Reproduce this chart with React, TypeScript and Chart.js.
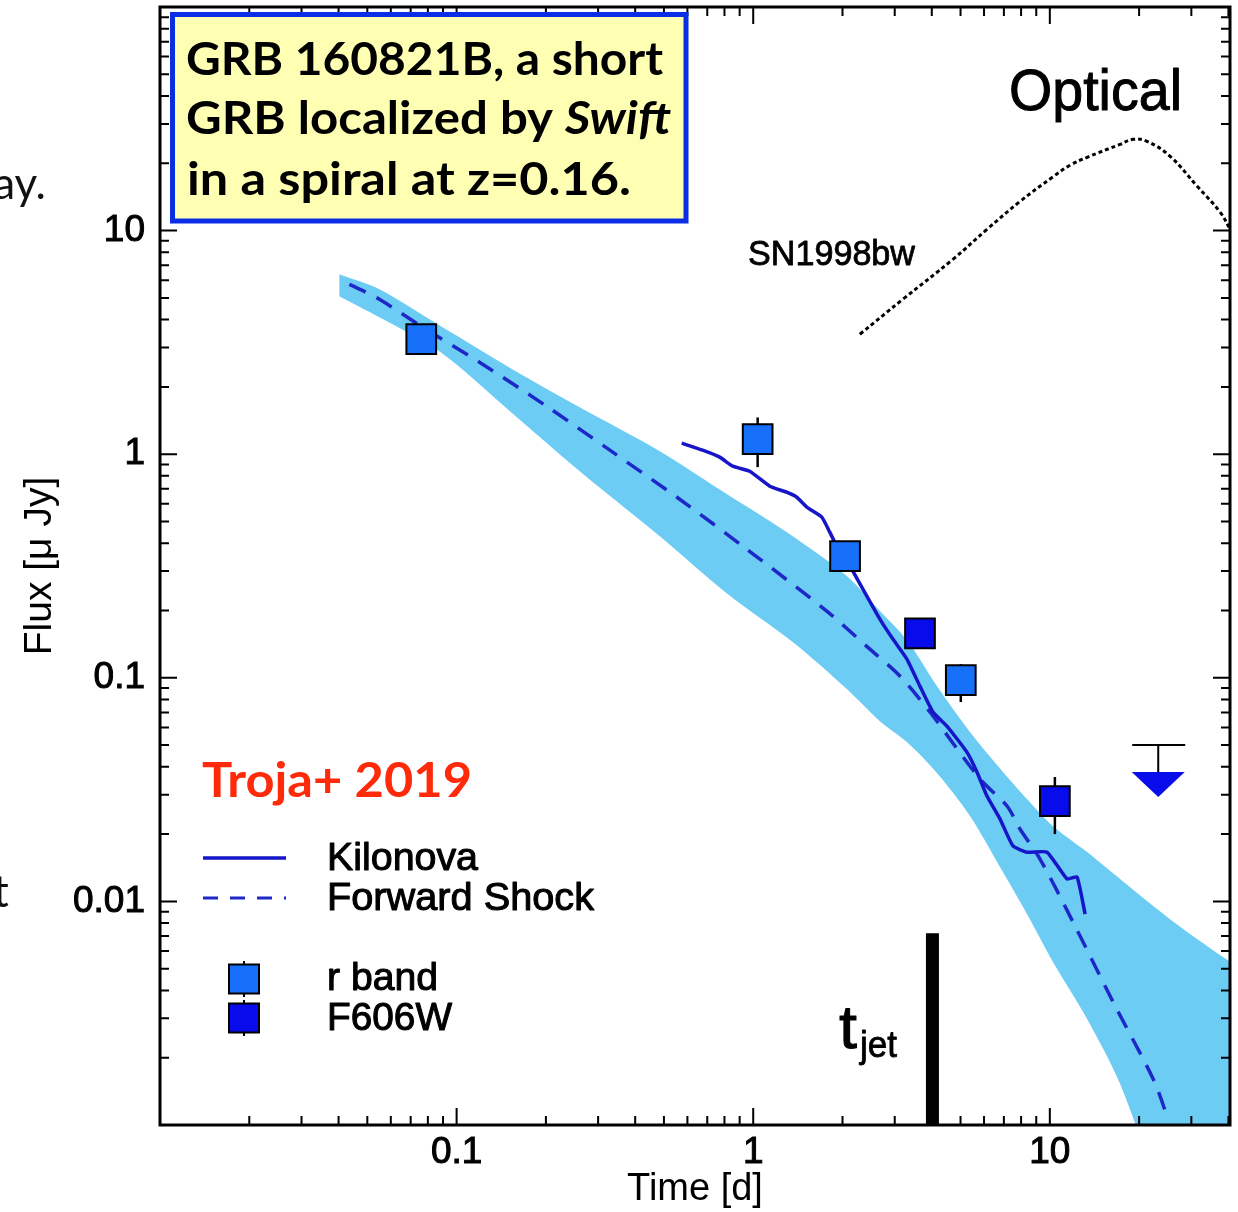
import React, { useEffect, useRef } from 'react';
import { Chart, registerables } from 'chart.js';

Chart.register(...registerables);

// ---------------- data ----------------
// Forward-shock uncertainty band (upper / lower edge)
const bandTime = [0.0402, 0.0549, 0.0875, 0.154, 0.26, 0.484, 0.814, 1.359, 2.068, 2.673, 3.297, 4.163, 5.381, 6.95, 8.375, 10.25, 13.36, 17.26, 22.3, 29.04, 40.57];
const bandUpper = [6.38, 5.47, 3.77, 2.4, 1.62, 1.031, 0.663, 0.43, 0.285, 0.199, 0.1475, 0.0918, 0.0572, 0.0379, 0.0287, 0.0217, 0.01663, 0.01259, 0.00954, 0.0073, 0.00536];
const bandLower = [5.09, 4.1, 2.886, 1.525, 0.839, 0.43, 0.239, 0.1444, 0.089, 0.064, 0.0516, 0.0375, 0.0241, 0.01353, 0.00878, 0.00536, 0.00298, 0.001527, 0.000605, 0.000252, 0.0000838];

// Forward shock model (dashed)
const fsTime = [0.0435, 0.0549, 0.0767, 0.1194, 0.201, 0.336, 0.565, 0.951, 1.77, 2.473, 3.122, 3.942, 5.813, 7.171, 7.932, 9.266, 11.97, 16.34, 22.3, 24.86];
const fsFlux = [5.75, 4.93, 3.7, 2.578, 1.639, 1.021, 0.629, 0.376, 0.1987, 0.1343, 0.1018, 0.0703, 0.0353, 0.0267, 0.02107, 0.01547, 0.00809, 0.00355, 0.001607, 0.001098];

// Kilonova model (solid)
const knTime = [0.574, 0.675, 0.771, 0.853, 0.973, 1.137, 1.297, 1.402, 1.516, 1.703, 1.812, 1.913, 2.068, 2.167, 2.416, 2.673, 2.957, 3.297, 3.647, 4.035, 4.498, 5.254, 5.679, 6.138, 6.79, 7.512, 8.375, 9.784, 11.43, 12.35, 13.15];
const knFlux = [1.12, 1.042, 0.97, 0.884, 0.839, 0.719, 0.676, 0.642, 0.58, 0.523, 0.448, 0.388, 0.339, 0.3, 0.232, 0.183, 0.149, 0.1213, 0.0918, 0.0703, 0.0608, 0.0465, 0.0379, 0.0296, 0.0234, 0.0177, 0.0166, 0.0166, 0.0126, 0.01285, 0.00878];

// SN1998bw template (dotted)
const snTime = [2.288, 3.195, 4.714, 6.138, 7.932, 10.25, 11.7, 13.36, 17.26, 19.09, 21.28, 25.45, 31.4, 37.54, 40.57];
const snFlux = [3.44, 4.93, 7.44, 10.13, 13.5, 17.4, 19.6, 21.27, 24.31, 25.59, 25.07, 21.48, 15.78, 12.07, 10.13];

// r band detections
const rTime = [0.076, 1.035, 2.04, 5.01];
const rFlux = [3.27, 1.167, 0.35, 0.0976];
const rErrLow = [3.27, 0.875, 0.35, 0.0779];
const rErrHigh = [3.27, 1.46, 0.35, 0.115];

// F606W detections
const hstTime = [3.65, 10.4];
const hstFlux = [0.158, 0.0281];
const hstErrLow = [0.158, 0.02];
const hstErrHigh = [0.158, 0.036];

// F606W upper limit
const ulTime = [23.2];
const ulFlux = [0.05];

// jet break marker
const tJet = 4.02;
const tJetTop = 0.0072;

// axes
const xMin = 0.01;
const xMax = 40.5;
const yMin = 0.001;
const yMax = 100;
const xTickValues = [0.02, 0.03, 0.04, 0.05, 0.06, 0.07, 0.08, 0.09, 0.1, 0.2, 0.3, 0.4, 0.5, 0.6, 0.7, 0.8, 0.9, 1, 2, 3, 4, 5, 6, 7, 8, 9, 10, 20, 30, 40];
const xMajorTicks = [0.1, 1, 10];
const xTickLabels = ['0.1', '1', '10'];
const yTickValues = [0.002, 0.003, 0.004, 0.005, 0.006, 0.007, 0.008, 0.009, 0.01, 0.02, 0.03, 0.04, 0.05, 0.06, 0.07, 0.08, 0.09, 0.1, 0.2, 0.3, 0.4, 0.5, 0.6, 0.7, 0.8, 0.9, 1, 2, 3, 4, 5, 6, 7, 8, 9, 10, 20, 30, 40, 50, 60, 70, 80, 90];
const yMajorTicks = [0.01, 0.1, 1, 10];
const yTickLabels = ['0.01', '0.1', '1', '10'];

// ---------------- styles ----------------
const SANS = '"Liberation Sans", Arial, Helvetica, sans-serif';
const SLIDE = 'Lato, "Open Sans", sans-serif';
const BAND = 'rgb(108,204,244)';
const KN_COLOR = 'rgb(22,22,200)';
const FS_COLOR = 'rgb(30,40,200)';
const R_COLOR = 'rgb(22,112,250)';
const HST_COLOR = 'rgb(8,12,235)';

const near = (a: number, b: number) => Math.abs(Math.log10(a) - Math.log10(b)) < 1e-6;
const majorIndex = (v: number, list: number[]) => list.findIndex((m) => near(v, m));
const pts = (xs: number[], ys: number[]) => xs.map((x, i) => ({ x, y: ys[i] }));

type Seg = { text: string; font: string };
function fitText(
  ctx: CanvasRenderingContext2D,
  segs: Seg[],
  x: number,
  y: number,
  width: number,
  color: string,
  stroke = 0
) {
  let total = 0;
  segs.forEach((s) => {
    ctx.font = s.font;
    total += ctx.measureText(s.text).width;
  });
  const k = width / total;
  ctx.save();
  ctx.translate(x, y);
  ctx.scale(k, 1);
  ctx.fillStyle = color;
  ctx.strokeStyle = color;
  ctx.lineWidth = stroke;
  ctx.lineJoin = 'round';
  ctx.textAlign = 'left';
  ctx.textBaseline = 'alphabetic';
  let cx = 0;
  segs.forEach((s) => {
    ctx.font = s.font;
    ctx.fillText(s.text, cx, 0);
    if (stroke > 0) ctx.strokeText(s.text, cx, 0);
    cx += ctx.measureText(s.text).width;
  });
  ctx.restore();
}

function drawErrBars(chart: any, times: number[], lows: number[], highs: number[]) {
  const { ctx } = chart;
  const xs = chart.scales.x;
  const ys = chart.scales.y;
  ctx.save();
  ctx.strokeStyle = '#000';
  ctx.lineWidth = 2.5;
  times.forEach((t, i) => {
    const px = xs.getPixelForValue(t);
    ctx.beginPath();
    ctx.moveTo(px, ys.getPixelForValue(highs[i]));
    ctx.lineTo(px, ys.getPixelForValue(lows[i]));
    ctx.stroke();
  });
  ctx.restore();
}

function legendSquare(ctx: CanvasRenderingContext2D, cx: number, cy: number, fill: string) {
  ctx.save();
  ctx.strokeStyle = '#000';
  ctx.lineWidth = 2;
  ctx.beginPath();
  ctx.moveTo(cx, cy - 18);
  ctx.lineTo(cx, cy + 18);
  ctx.stroke();
  ctx.fillStyle = fill;
  ctx.fillRect(cx - 15, cy - 14.5, 30, 29);
  ctx.strokeRect(cx - 15, cy - 14.5, 30, 29);
  ctx.restore();
}

const decorPlugin = {
  id: 'decor',
  beforeDatasetDraw(chart: any, args: any) {
    const label = chart.data.datasets[args.index].label;
    if (label === 'r band') drawErrBars(chart, rTime, rErrLow, rErrHigh);
    if (label === 'F606W') drawErrBars(chart, hstTime, hstErrLow, hstErrHigh);
  },
  afterDatasetsDraw(chart: any) {
    const { ctx } = chart;
    const xs = chart.scales.x;
    const ys = chart.scales.y;
    // upper limits
    ctx.save();
    ulTime.forEach((t, i) => {
      const px = xs.getPixelForValue(t);
      const py = ys.getPixelForValue(ulFlux[i]);
      ctx.strokeStyle = '#000';
      ctx.lineWidth = 2;
      ctx.beginPath();
      ctx.moveTo(px - 26, py);
      ctx.lineTo(px + 27, py);
      ctx.moveTo(px, py);
      ctx.lineTo(px, py + 27);
      ctx.stroke();
      ctx.fillStyle = HST_COLOR;
      ctx.beginPath();
      ctx.moveTo(px - 26.5, py + 27);
      ctx.lineTo(px + 26.5, py + 27);
      ctx.lineTo(px, py + 52);
      ctx.closePath();
      ctx.fill();
    });
    ctx.restore();
  },
  afterDraw(chart: any) {
    const { ctx, chartArea: ca } = chart;
    const xs = chart.scales.x;
    const ys = chart.scales.y;
    ctx.save();
    // tick marks (inward, all four sides)
    ctx.strokeStyle = '#000';
    ctx.lineWidth = 2;
    xTickValues.forEach((v) => {
      const px = xs.getPixelForValue(v);
      const len = majorIndex(v, xMajorTicks) >= 0 ? 17 : 9;
      ctx.beginPath();
      ctx.moveTo(px, ca.bottom);
      ctx.lineTo(px, ca.bottom - len);
      ctx.moveTo(px, ca.top);
      ctx.lineTo(px, ca.top + len);
      ctx.stroke();
    });
    yTickValues.forEach((v) => {
      const py = ys.getPixelForValue(v);
      const len = majorIndex(v, yMajorTicks) >= 0 ? 17 : 9;
      ctx.beginPath();
      ctx.moveTo(ca.left, py);
      ctx.lineTo(ca.left + len, py);
      ctx.moveTo(ca.right, py);
      ctx.lineTo(ca.right - len, py);
      ctx.stroke();
    });
    // frame
    ctx.lineWidth = 3;
    ctx.strokeRect(ca.left, ca.top, ca.right - ca.left, ca.bottom - ca.top);

    // info box
    ctx.fillStyle = '#ffffb4';
    ctx.fillRect(172.5, 14.5, 513.5, 206.5);
    ctx.strokeStyle = '#0a2de6';
    ctx.lineWidth = 5;
    ctx.strokeRect(172.5, 14.5, 513.5, 206.5);
    const bf = `bold 45px ${SLIDE}`;
    const bi = `italic bold 45px ${SLIDE}`;
    fitText(ctx, [{ text: 'GRB 160821B, a short', font: bf }], 186, 75, 477, '#000');
    fitText(ctx, [{ text: 'GRB localized by ', font: bf }, { text: 'Swift', font: bi }], 186, 134, 485, '#000');
    fitText(ctx, [{ text: 'in a spiral at z=0.16.', font: bf }], 187, 195, 444, '#000');

    // slide fragments left of the figure
    ctx.fillStyle = '#111';
    ctx.font = `44px ${SLIDE}`;
    ctx.textAlign = 'right';
    ctx.textBaseline = 'alphabetic';
    ctx.fillText('ay.', 46, 199);
    ctx.textAlign = 'left';
    ctx.fillText('t', -7, 907);

    // labels in the plot
    fitText(ctx, [{ text: 'Optical', font: `58px ${SANS}` }], 1009, 110, 173, '#000', 1);
    fitText(ctx, [{ text: 'SN1998bw', font: `35px ${SANS}` }], 748, 265, 167, '#000', 0.8);
    fitText(ctx, [{ text: 'Troja+ 2019', font: `bold 47px ${SLIDE}` }], 202, 797, 270, '#ff2a0a');

    // legend
    ctx.lineWidth = 3.5;
    ctx.strokeStyle = KN_COLOR;
    ctx.beginPath();
    ctx.moveTo(203, 858);
    ctx.lineTo(286, 858);
    ctx.stroke();
    ctx.strokeStyle = FS_COLOR;
    ctx.lineWidth = 3;
    ctx.setLineDash([15, 12]);
    ctx.beginPath();
    ctx.moveTo(203, 898);
    ctx.lineTo(286, 898);
    ctx.stroke();
    ctx.setLineDash([]);
    legendSquare(ctx, 244, 979, R_COLOR);
    legendSquare(ctx, 244, 1018, HST_COLOR);
    fitText(ctx, [{ text: 'Kilonova', font: `38px ${SANS}` }], 327, 870, 151, '#000', 1);
    fitText(ctx, [{ text: 'Forward Shock', font: `38px ${SANS}` }], 327, 910, 267, '#000', 1);
    fitText(ctx, [{ text: 'r band', font: `38px ${SANS}` }], 327, 990, 111, '#000', 1);
    fitText(ctx, [{ text: 'F606W', font: `38px ${SANS}` }], 327, 1030, 125, '#000', 1);

    // t_jet label
    fitText(ctx, [{ text: 't', font: `62px ${SANS}` }], 839, 1048, 18, '#000', 1);
    fitText(ctx, [{ text: 'jet', font: `37px ${SANS}` }], 860, 1057, 37, '#000', 0.8);
    ctx.restore();
  },
};

export default function App() {
  const ref = useRef<HTMLCanvasElement>(null);

  useEffect(() => {
    const canvas = ref.current;
    if (!canvas) return;
    const chart = new Chart(canvas, {
      type: 'line',
      data: {
        datasets: [
          {
            label: 'band upper',
            data: pts(bandTime, bandUpper),
            borderWidth: 0,
            borderColor: BAND,
            backgroundColor: BAND,
            fill: '+1',
            pointRadius: 0,
            tension: 0.3,
            order: 20,
          },
          {
            label: 'band lower',
            data: pts(bandTime, bandLower),
            borderWidth: 0,
            borderColor: BAND,
            fill: false,
            pointRadius: 0,
            tension: 0.3,
            order: 21,
          },
          {
            label: 'SN1998bw',
            data: pts(snTime, snFlux),
            borderColor: '#000',
            borderWidth: 3,
            borderDash: [4, 3],
            fill: false,
            pointRadius: 0,
            tension: 0.4,
            order: 9,
          },
          {
            label: 'Forward Shock',
            data: pts(fsTime, fsFlux),
            borderColor: FS_COLOR,
            borderWidth: 3.5,
            borderDash: [18, 12],
            fill: false,
            pointRadius: 0,
            tension: 0.3,
            order: 8,
          },
          {
            label: 'Kilonova',
            data: pts(knTime, knFlux),
            borderColor: KN_COLOR,
            borderWidth: 3.5,
            fill: false,
            pointRadius: 0,
            tension: 0.15,
            order: 7,
          },
          {
            label: 't_jet',
            data: [
              { x: tJet, y: tJetTop },
              { x: tJet, y: yMin * 0.8 },
            ],
            borderColor: '#000',
            borderWidth: 13,
            borderCapStyle: 'butt',
            fill: false,
            pointRadius: 0,
            order: 6,
          },
          {
            label: 'r band',
            data: pts(rTime, rFlux),
            showLine: false,
            pointStyle: 'rect',
            pointRadius: 21,
            pointBackgroundColor: R_COLOR,
            pointBorderColor: '#000',
            pointBorderWidth: 2,
            order: 2,
          },
          {
            label: 'F606W',
            data: pts(hstTime, hstFlux),
            showLine: false,
            pointStyle: 'rect',
            pointRadius: 21,
            pointBackgroundColor: HST_COLOR,
            pointBorderColor: '#000',
            pointBorderWidth: 2,
            order: 1,
          },
        ],
      } as any,
      options: {
        animation: false,
        responsive: false,
        devicePixelRatio: 1,
        events: [],
        layout: { padding: { left: 0, top: 7, right: 8, bottom: 0 }, autoPadding: false },
        plugins: { legend: { display: false }, tooltip: { enabled: false } },
        scales: {
          x: {
            type: 'logarithmic',
            min: xMin,
            max: xMax,
            position: 'bottom',
            grid: { display: false, drawTicks: false },
            border: { display: false },
            afterBuildTicks: (s: any) => {
              s.ticks = xTickValues.map((v) => ({ value: v }));
            },
            afterFit: (s: any) => {
              s.height = 87;
              s.paddingLeft = 0;
              s.paddingRight = 0;
              s.paddingTop = 0;
              s.paddingBottom = 0;
            },
            ticks: {
              autoSkip: false,
              maxRotation: 0,
              minRotation: 0,
              padding: 6,
              color: '#000',
              textStrokeColor: '#000',
              textStrokeWidth: 1,
              font: { family: SANS, size: 37 },
              callback: (v: any) => {
                const i = majorIndex(Number(v), xMajorTicks);
                return i >= 0 ? xTickLabels[i] : '';
              },
            },
            title: {
              display: true,
              text: 'Time [d]',
              color: '#000',
              font: { family: SANS, size: 38 },
              padding: { top: 0, bottom: 0 },
            },
          },
          y: {
            type: 'logarithmic',
            min: yMin,
            max: yMax,
            position: 'left',
            grid: { display: false, drawTicks: false },
            border: { display: false },
            afterBuildTicks: (s: any) => {
              s.ticks = yTickValues.map((v) => ({ value: v }));
            },
            afterFit: (s: any) => {
              s.width = 160;
              s.paddingLeft = 0;
              s.paddingRight = 0;
              s.paddingTop = 0;
              s.paddingBottom = 0;
            },
            ticks: {
              autoSkip: false,
              padding: 15,
              color: '#000',
              textStrokeColor: '#000',
              textStrokeWidth: 1,
              font: { family: SANS, size: 37 },
              callback: (v: any) => {
                const i = majorIndex(Number(v), yMajorTicks);
                return i >= 0 ? yTickLabels[i] : '';
              },
            },
            title: {
              display: true,
              text: 'Flux [μ Jy]',
              color: '#000',
              font: { family: SANS, size: 39 },
              padding: { top: 17, bottom: 0 },
            },
          },
        },
      } as any,
      plugins: [decorPlugin],
    });
    return () => chart.destroy();
  }, []);

  return (
    <div
      style={{
        position: 'absolute',
        left: 0,
        top: 0,
        width: 1238,
        height: 1212,
        background: '#ffffff',
        overflow: 'hidden',
      }}
    >
      <canvas ref={ref} width={1238} height={1212} style={{ display: 'block', width: '1238px', height: '1212px' }} />
    </div>
  );
}
